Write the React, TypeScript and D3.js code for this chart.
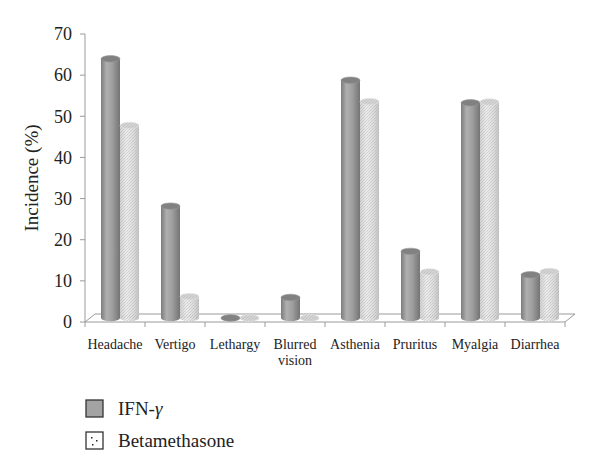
import React from "react";
import * as d3 from "d3";

const categories = ["Headache", "Vertigo", "Lethargy", "Blurred vision", "Asthenia", "Pruritus", "Myalgia", "Diarrhea"];
const seriesNames = ["IFN-γ", "Betamethasone"];
const ifnValues = [63, 27.2, 0, 5, 57.8, 16.2, 52.3, 10.5];
const betaValues = [46.8, 5.2, 0, 0, 52.6, 11.2, 52.5, 11.3];
const yTicks = [0, 10, 20, 30, 40, 50, 60, 70];

const FONT = "'Liberation Serif', 'DejaVu Serif', serif";

export default function App() {
  const width = 600,
    height = 471;
  const left = 85,
    right = 565,
    top = 34,
    bottom = 322;
  const depthX = 10,
    depthY = -8;

  const x = d3.scaleBand<string>().domain(categories).range([left, right]);
  const inner = d3.scaleBand<string>().domain(seriesNames).range([0, 38]);
  const y = d3.scaleLinear().domain([0, 70]).range([bottom, top]);

  const series = [
    { name: seriesNames[0], values: ifnValues },
    { name: seriesNames[1], values: betaValues }
  ];

  const bw = inner.bandwidth();
  const ry = 3.2;

  const cylinder = (cat: string, i: number, s: number, v: number) => {
    const x0 = (x(cat) as number) + (x.bandwidth() - 38) / 2 + (inner(seriesNames[s]) as number) + depthX / 2;
    const base = bottom + depthY / 2;
    const topY = base - (y(0) - y(v));
    const cx = x0 + bw / 2;
    const isIfn = s === 0;
    return (
      <g key={cat + s}>
        <ellipse cx={cx} cy={base} rx={bw / 2} ry={ry} fill={isIfn ? "url(#gIfn)" : "url(#gBeta)"} />
        {v > 0 && (
          <rect x={x0} y={topY} width={bw} height={base - topY} fill={isIfn ? "url(#gIfn)" : "url(#gBeta)"} />
        )}
        {v > 0 && !isIfn && (
          <>
            <rect x={x0} y={topY} width={bw} height={base - topY} fill="url(#dots)" />
            <ellipse cx={cx} cy={base} rx={bw / 2} ry={ry} fill="url(#dots)" />
          </>
        )}
        <ellipse
          cx={cx}
          cy={topY}
          rx={bw / 2}
          ry={ry}
          fill={isIfn ? "#818181" : "#d4d4d4"}
          stroke={isIfn ? "#969696" : "#e6e6e6"}
          strokeWidth={0.6}
        />
        {!isIfn && <ellipse cx={cx} cy={topY} rx={bw / 2} ry={ry} fill="url(#dots)" />}
      </g>
    );
  };

  return (
    <svg width={width} height={height} style={{ position: "absolute", left: 0, top: 0, background: "#fff" }}>
      <defs>
        <linearGradient id="gIfn" x1="0" x2="1" y1="0" y2="0">
          <stop offset="0" stopColor="#7c7c7c" />
          <stop offset="0.3" stopColor="#b0b0b0" />
          <stop offset="0.6" stopColor="#9e9e9e" />
          <stop offset="1" stopColor="#747474" />
        </linearGradient>
        <linearGradient id="gBeta" x1="0" x2="1" y1="0" y2="0">
          <stop offset="0" stopColor="#d2d2d2" />
          <stop offset="0.35" stopColor="#ececec" />
          <stop offset="0.7" stopColor="#dddddd" />
          <stop offset="1" stopColor="#c4c4c4" />
        </linearGradient>
        <pattern id="dots" width="3" height="3" patternUnits="userSpaceOnUse">
          <rect x="0" y="0" width="1" height="1" fill="#a0a0a0" opacity="0.35" />
          <rect x="2" y="1" width="1" height="1" fill="#a5a5a5" opacity="0.3" />
          <rect x="1" y="2" width="1" height="1" fill="#999" opacity="0.3" />
        </pattern>
        <pattern id="legDots" width="17" height="17" patternUnits="userSpaceOnUse" x="86" y="432">
          <rect x="5" y="5" width="1.5" height="1.5" fill="#222" />
          <rect x="10" y="8" width="1.5" height="1.5" fill="#222" />
          <rect x="6" y="12" width="1.5" height="1.5" fill="#222" />
        </pattern>
      </defs>

      {/* floor */}
      <polygon
        points={[
          [left, bottom],
          [right, bottom],
          [right + depthX, bottom + depthY],
          [left + depthX, bottom + depthY]
        ]
          .map((p) => p.join(","))
          .join(" ")}
        fill="#fff"
        stroke="#9a9a9a"
        strokeWidth={1}
      />

      {/* y axis */}
      <line x1={left} x2={left} y1={top} y2={bottom} stroke="#9a9a9a" />
      {yTicks.map((t) => (
        <g key={t}>
          <line x1={left - 5} x2={left} y1={y(t)} y2={y(t)} stroke="#9a9a9a" />
          <text x={left - 13} y={y(t)} dy="0.35em" textAnchor="end" fontFamily={FONT} fontSize={18} fill="#222">
            {t}
          </text>
        </g>
      ))}

      {/* x ticks */}
      {categories.map((c) => (
        <line key={c} x1={x(c) as number} x2={x(c) as number} y1={bottom} y2={bottom + 5} stroke="#9a9a9a" />
      ))}
      <line x1={right} x2={right} y1={bottom} y2={bottom + 5} stroke="#9a9a9a" />

      {/* bars */}
      {categories.map((c, i) => series.map((s, si) => cylinder(c, i, si, s.values[i])))}

      {/* category labels */}
      {categories.map((c) => {
        const cx = (x(c) as number) + x.bandwidth() / 2;
        const lines = c === "Blurred vision" ? ["Blurred", "vision"] : [c];
        return (
          <text key={c} x={cx} y={349} textAnchor="middle" fontFamily={FONT} fontSize={14} fill="#222">
            {lines.map((l, k) => (
              <tspan key={k} x={cx} dy={k === 0 ? 0 : 16}>
                {l}
              </tspan>
            ))}
          </text>
        );
      })}

      {/* y title */}
      <text
        transform={`translate(38,${(top + bottom) / 2}) rotate(-90)`}
        textAnchor="middle"
        fontFamily={FONT}
        fontSize={19}
        fill="#222"
      >
        Incidence (%)
      </text>

      {/* legend */}
      <rect x={86} y={400} width={17} height={17} fill="#a3a3a3" stroke="#333" strokeWidth={1.3} />
      <text x={118} y={415} fontFamily={FONT} fontSize={19} fill="#222">
        IFN-<tspan fontStyle="italic">γ</tspan>
      </text>
      <rect x={86} y={432} width={17} height={17} fill="#fff" stroke="#333" strokeWidth={1.3} />
      <rect x={86} y={432} width={17} height={17} fill="url(#legDots)" />
      <text x={118} y={447} fontFamily={FONT} fontSize={19} fill="#222">
        {seriesNames[1]}
      </text>
    </svg>
  );
}
